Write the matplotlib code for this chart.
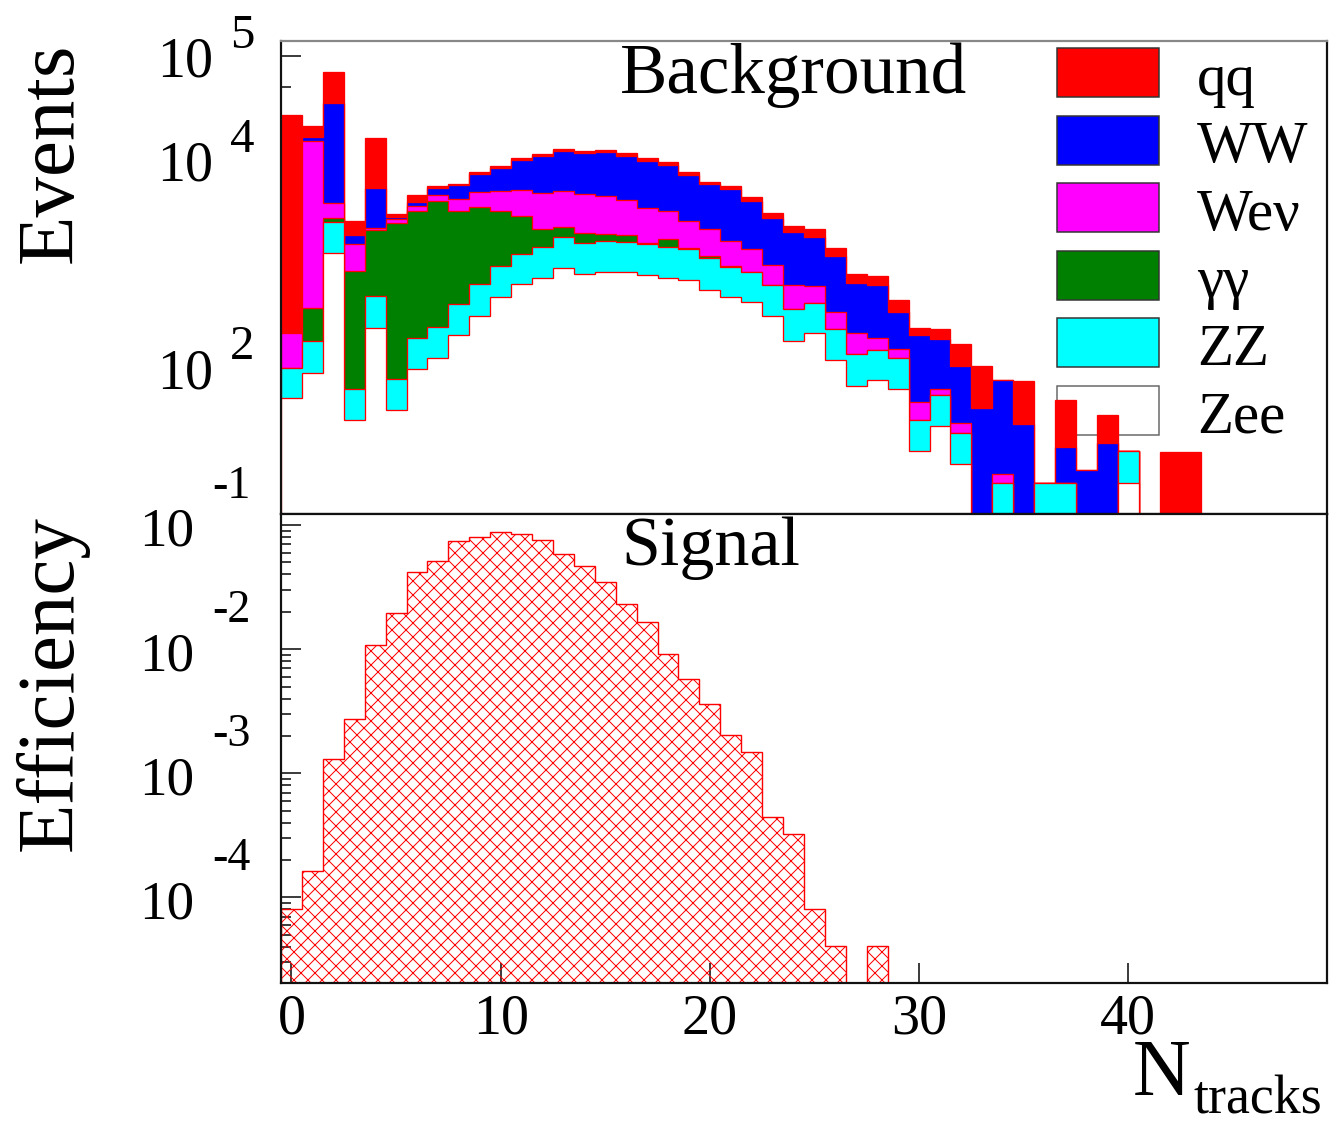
import numpy as np
import matplotlib
matplotlib.use("Agg")
import matplotlib.pyplot as plt
from matplotlib.patches import Rectangle
from matplotlib.ticker import FixedLocator, LogLocator

# ---------------- data ----------------
n_bins = 50
x_ticks = [0, 10, 20, 30, 40]

qq = [26400, 4500, 34200, 680, 10710, 170, 620, 230, 170, 330,
      320, 440, 500, 520, 530, 620, 740, 520, 540, 420,
      310, 430, 300, 320, 270, 353, 218, 142, 147, 101,
      36, 46, 63, 61.5, 0, 46.1, 0, 30.9, 0, 15.8,
      0, 0, 15.2, 15.2]
ww = [4, 1500, 30950, 320, 3050, 145, 360, 770, 1550, 2400,
      3330, 4790, 5990, 7150, 6980, 7270, 6810, 6330, 5630, 4530,
      3680, 3514, 2639, 1782, 1394, 1199, 831, 429, 420, 193,
      156.7, 122.8, 73.9, 40.5, 65.4, 28.2, 0, 9.43, 10.3, 18.6,
      0, 0, 0, 0]
wev = [113, 14700, 1100, 710, 120, 245, 400, 590, 940, 1440,
       1820, 2220, 2590, 2680, 2720, 2550, 2210, 1845, 1510, 1167,
       948, 687, 543, 352, 262, 186, 110, 78, 46, 25,
       15.5, 8.5, 5.7, 0, 1.77]
gg = [0, 189, 250, 778, 1607, 2342, 2969, 3706, 2776, 2820,
      2240, 1625, 680, 450, 362, 275, 260, 25, 260, 20,
      52, 20]
zz = [47.8, 89.3, 1230, 31.4, 244, 39.1, 95.5, 121, 201, 318,
      471, 600, 714, 894, 791, 797, 784, 760, 714, 699,
      568, 460, 408, 306, 180, 206, 114, 67.5, 71.2, 60.8,
      15.2, 26.7, 11.8, 0, 7.67, 0, 7.67, 7.67, 0, 0,
      7.93]
zee = [50.6, 88.7, 1270, 30.8, 239, 38.5, 95.5, 123, 203, 312,
       469, 625, 726, 906, 787, 828, 816, 770, 726, 684,
       552, 469, 420, 310, 179, 211, 117, 65.5, 74.8, 62.2,
       15.6, 27.0, 11.6, 0, 0, 0, 0, 0, 0, 0,
       7.67]

signal_eff = [8.05e-5, 1.62e-4, 1.30e-3, 2.74e-3, 1.09e-2, 1.96e-2, 4.21e-2, 5.16e-2, 7.48e-2, 8.05e-2,
              8.79e-2, 8.47e-2, 7.62e-2, 5.88e-2, 4.68e-2, 3.46e-2, 2.31e-2, 1.67e-2, 9.16e-3, 5.73e-3,
              3.62e-3, 2.04e-3, 1.48e-3, 4.43e-4, 3.26e-4, 8.05e-5, 4.04e-5, 0, 4.04e-5]

bkg_names = ["qq", "WW", "Weν", "γγ", "ZZ", "Zee"]
bkg_colors = ["#ff0000", "#0000ff", "#ff00ff", "#008000", "#00ffff", "#ffffff"]
top_label_exps = [5, 4, 2]
bot_label_exps = [-1, -2, -3, -4]

# ---------------- layout helpers ----------------
W, H, DPI = 1332, 1126, 84
def pt(px):
    return px * 72.0 / DPI
def fx(x):
    return x / W
def fy(y):
    return 1.0 - y / H

plt.rcParams['font.family'] = ['Liberation Serif', 'DejaVu Serif']
plt.rcParams['hatch.linewidth'] = pt(1.0)
plt.rcParams['hatch.color'] = 'red'

def padded(v):
    a = np.zeros(n_bins)
    a[:len(v)] = v
    return a

edges = np.arange(n_bins + 1) - 0.5

fig = plt.figure(figsize=(W / DPI, H / DPI), dpi=DPI)
fig.patch.set_facecolor('white')
L, R = 281, 1327
axT = fig.add_axes([fx(L), fy(514), (R - L) / W, (514 - 41) / H])
axB = fig.add_axes([fx(L), fy(983), (R - L) / W, (983 - 514) / H])

# ---------------- top: stacked backgrounds ----------------
floor_t = 1e-3
# stacking order bottom -> top : Zee, ZZ, gg, Wev, WW, qq
stack_vals = [padded(zee), padded(zz), padded(gg), padded(wev), padded(ww), padded(qq)]
stack_cols = bkg_colors[::-1]
cum = np.cumsum(np.vstack(stack_vals), axis=0)
for level, col in reversed(list(zip(cum, stack_cols))):
    vals = np.where(level > 0, level, floor_t)
    axT.stairs(vals, edges, baseline=floor_t, fill=True, facecolor=col,
               edgecolor='red', linewidth=pt(1.3), zorder=2)

axT.set_yscale('log')
axT.set_xlim(-0.5, 49.5)
axT.set_ylim(10 ** 0.585, 10 ** 5.1416)
axT.yaxis.set_major_locator(FixedLocator([1e1, 1e2, 1e3, 1e4, 1e5]))
axT.yaxis.set_minor_locator(FixedLocator([5, 50, 500, 5000, 50000]))

# ---------------- bottom: signal efficiency ----------------
floor_b = 1e-8
sig = padded(signal_eff)
axB.stairs(np.where(sig > 0, sig, floor_b), edges, baseline=floor_b, fill=True,
           facecolor='none', edgecolor='red', hatch='xx', linewidth=pt(1.4), zorder=2)
axB.set_yscale('log')
axB.set_xlim(-0.5, 49.5)
axB.set_ylim(10 ** -4.689, 10 ** -0.9114)
axB.yaxis.set_major_locator(FixedLocator([1e-4, 1e-3, 1e-2, 1e-1]))
axB.yaxis.set_minor_locator(LogLocator(base=10, subs=np.arange(2, 10)))

for ax in (axT, axB):
    ax.xaxis.set_major_locator(FixedLocator(x_ticks))
    ax.xaxis.set_minor_locator(FixedLocator([]))
    ax.tick_params(axis='both', which='both', direction='in', top=False, right=False,
                   labelbottom=False, labelleft=False, width=pt(1.5), color='black')
    ax.tick_params(which='major', length=pt(20))
    ax.tick_params(which='minor', length=pt(10))
    for s in ax.spines.values():
        s.set_linewidth(pt(2.2))
        s.set_color('#111111')
axT.spines['top'].set_color('#888888')

# ---------------- tick labels (ROOT style) ----------------
for e in top_label_exps:
    kw = dict(xycoords=axT.get_yaxis_transform(), textcoords='offset pixels', annotation_clip=False)
    axT.annotate('10', xy=(0, 10.0 ** e), xytext=(-68, -21), ha='right', va='baseline', fontsize=pt(56), **kw)
    axT.annotate(str(e), xy=(0, 10.0 ** e), xytext=(-51, 8), ha='left', va='baseline', fontsize=pt(49), **kw)
for e in bot_label_exps:
    kw = dict(xycoords=axB.get_yaxis_transform(), textcoords='offset pixels', annotation_clip=False)
    axB.annotate('10', xy=(0, 10.0 ** e), xytext=(-87, -21), ha='right', va='baseline', fontsize=pt(55), **kw)
    axB.annotate(str(e), xy=(0, 10.0 ** e), xytext=(-69, 27), ha='left', va='baseline', fontsize=pt(46), **kw)
for v in x_ticks:
    axB.annotate(str(v), xy=(v, 0), xycoords=axB.get_xaxis_transform(), xytext=(0, -50),
                 textcoords='offset pixels', ha='center', va='baseline', fontsize=pt(56),
                 annotation_clip=False)

# axis titles
fig.text(fx(72), fy(43), 'Events', rotation=90, rotation_mode='anchor', ha='right',
         va='baseline', fontsize=pt(81))
fig.text(fx(72), fy(515), 'Efficiency', rotation=90, rotation_mode='anchor', ha='right',
         va='baseline', fontsize=pt(81))
fig.text(fx(1133), fy(1095), 'N', ha='left', va='baseline', fontsize=pt(80))
fig.text(fx(1194), fy(1114), 'tracks', ha='left', va='baseline', fontsize=pt(54))

# panel titles
fig.text(fx(620), fy(93), 'Background', ha='left', va='baseline', fontsize=pt(71))
fig.text(fx(621), fy(565), 'Signal', ha='left', va='baseline', fontsize=pt(70))

# ---------------- legend (drawn beneath histograms as in ROOT) ----------------
for i, (name, col) in enumerate(zip(bkg_names, bkg_colors)):
    cy = 72.7 + 67.5 * i
    ec = '#666666' if col == '#ffffff' else '#333333'
    rect = Rectangle((fx(1057), fy(cy + 24.5)), 102 / W, 49 / H, transform=fig.transFigure,
                     facecolor=col, edgecolor=ec, linewidth=pt(1.5), zorder=1.5)
    axT.add_patch(rect)
    axT.text(fx(1197), fy(cy + 22), name, transform=fig.transFigure, ha='left',
             va='baseline', fontsize=pt(59), zorder=3)

fig.savefig('out.png', dpi=DPI, facecolor='white')
